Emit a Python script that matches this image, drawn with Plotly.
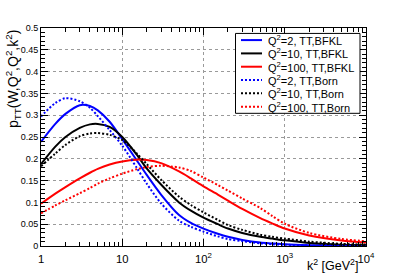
import plotly.graph_objects as go

# ---------------- data ----------------
k2 = [1, 1.5, 2, 3, 4, 5, 7, 10, 15, 20, 30, 50, 70, 100, 150, 200, 300, 500, 700, 1000, 2000, 5000, 10000]

bfkl_q2_2 = [0.239, 0.280, 0.303, 0.323, 0.321, 0.311, 0.285, 0.245, 0.197, 0.163, 0.118, 0.071, 0.053, 0.040,
             0.028, 0.021, 0.014, 0.008, 0.006, 0.004, 0.002, 0.0008, 0.0004]
bfkl_q2_10 = [0.188, 0.228, 0.250, 0.271, 0.279, 0.280, 0.273, 0.250, 0.210, 0.178, 0.141, 0.100, 0.081, 0.065,
              0.050, 0.040, 0.030, 0.021, 0.017, 0.013, 0.007, 0.003, 0.002]
bfkl_q2_100 = [0.097, 0.120, 0.135, 0.155, 0.168, 0.177, 0.187, 0.194, 0.198, 0.197, 0.190, 0.171, 0.155, 0.137,
               0.118, 0.104, 0.085, 0.064, 0.052, 0.040, 0.024, 0.0125, 0.008]
born_q2_2 = [0.297, 0.328, 0.339, 0.332, 0.317, 0.298, 0.266, 0.230, 0.180, 0.143, 0.098, 0.058, 0.044, 0.033,
             0.022, 0.016, 0.011, 0.006, 0.004, 0.003, 0.0015, 0.0005, 0.0002]
born_q2_10 = [0.183, 0.212, 0.232, 0.252, 0.258, 0.259, 0.255, 0.243, 0.213, 0.188, 0.152, 0.113, 0.094, 0.077,
              0.060, 0.048, 0.037, 0.026, 0.021, 0.017, 0.010, 0.005, 0.003]
born_q2_100 = [0.075, 0.093, 0.105, 0.121, 0.133, 0.143, 0.155, 0.166, 0.176, 0.181, 0.184, 0.180, 0.172, 0.157,
               0.140, 0.127, 0.109, 0.087, 0.069, 0.051, 0.030, 0.016, 0.011]

series_names = ["Q<sup>2</sup>=2, TT,BFKL", "Q<sup>2</sup>=10, TT,BFKL", "Q<sup>2</sup>=100, TT,BFKL",
                "Q<sup>2</sup>=2, TT,Born", "Q<sup>2</sup>=10, TT,Born", "Q<sup>2</sup>=100, TT,Born"]
series_values = [bfkl_q2_2, bfkl_q2_10, bfkl_q2_100, born_q2_2, born_q2_10, born_q2_100]
series_colors = ["#0000ff", "#000000", "#ff0000", "#0000ff", "#000000", "#ff0000"]
series_dash = ["solid", "solid", "solid", "2px,2px", "2px,2px", "2px,2px"]

# ---------------- layout geometry ----------------
W, H = 407, 277
L, R, T, B = 41, 41, 28, 28
PW, PH = W - L - R, H - T - B


def px(x):
    return (x - L) / PW


def py(y):
    return (H - B - y) / PH


FONT = "Liberation Sans, Arial, Helvetica, sans-serif"

fig = go.Figure()
for name, vals, col, dash in zip(series_names, series_values, series_colors, series_dash):
    fig.add_trace(go.Scatter(x=k2, y=vals, mode="lines", name=name, showlegend=False,
                             line=dict(color=col, width=2, dash=dash, shape="spline", smoothing=0.8)))

axis_common = dict(showline=True, linecolor="black", linewidth=1, mirror="allticks",
                   ticks="inside", tickcolor="black", tickwidth=1,
                   showgrid=True, gridcolor="#9a9a9a", griddash="dot", gridwidth=1,
                   zeroline=False, tickfont=dict(family=FONT, size=9, color="black"))

fig.update_xaxes(type="log", range=[0, 4], dtick=1, exponentformat="power", ticklen=7,
                 minor=dict(ticks="inside", ticklen=4, dtick="D1", tickcolor="black", showgrid=False),
                 ticklabelstandoff=3, **axis_common)
fig.update_yaxes(range=[0, 0.5], dtick=0.05, ticklen=7,
                 minor=dict(ticks="inside", ticklen=4, dtick=0.01, tickcolor="black", showgrid=False),
                 **axis_common)

shapes = []
annotations = []

# legend box
leg_x0, leg_x1, leg_y0, leg_y1 = 235.5, 360, 33.5, 114.5
shapes.append(dict(type="rect", xref="paper", yref="paper", x0=px(leg_x0), x1=px(leg_x1),
                   y0=py(leg_y1), y1=py(leg_y0), line=dict(color="black", width=1), fillcolor="white",
                   layer="above"))
row_h = (leg_y1 - leg_y0) / 6
for i, (name, col, dash) in enumerate(zip(series_names, series_colors, series_dash)):
    yc = leg_y0 + row_h * (i + 0.5)
    shapes.append(dict(type="line", xref="paper", yref="paper", x0=px(241), x1=px(262),
                       y0=py(yc), y1=py(yc), line=dict(color=col, width=2, dash=dash), layer="above"))
    annotations.append(dict(text=name, xref="paper", yref="paper", x=px(265.5), y=py(yc),
                            xanchor="left", yanchor="middle", showarrow=False,
                            font=dict(family=FONT, size=11, color="black")))

# axis titles (ROOT style: aligned to the axis end)
annotations.append(dict(text="k<sup>2</sup> [GeV<sup>2</sup>]", xref="paper", yref="paper",
                        x=px(360), y=py(268), xanchor="right", yanchor="middle", showarrow=False,
                        font=dict(family=FONT, size=12.5, color="black")))
annotations.append(dict(text="p<sub>TT</sub>(W,Q<sup>2</sup>,Q<sup>2</sup>,k<sup>2</sup>)", xref="paper",
                        yref="paper", x=px(13), y=py(28), xanchor="center", yanchor="top",
                        textangle=-90, showarrow=False,
                        font=dict(family=FONT, size=14, color="black")))

fig.update_layout(width=W, height=H, margin=dict(l=L, r=R, t=T, b=B, pad=0),
                  paper_bgcolor="white", plot_bgcolor="white", showlegend=False,
                  shapes=shapes, annotations=annotations,
                  font=dict(family=FONT, color="black"))

fig.write_html("out.html", config={"displayModeBar": False},
               post_script="document.body.style.margin='0';document.body.style.padding='0';"
                           "document.body.style.overflow='hidden';")
